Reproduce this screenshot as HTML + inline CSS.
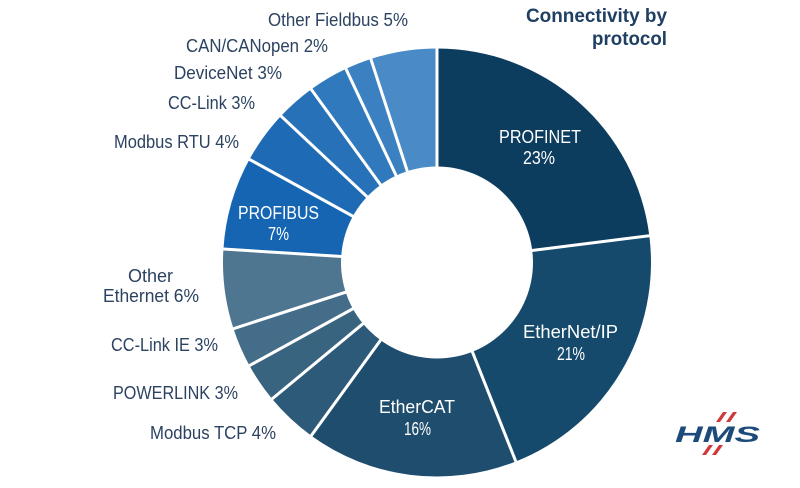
<!DOCTYPE html>
<html>
<head>
<meta charset="utf-8">
<style>
  html,body{margin:0;padding:0;background:#fff;}
  svg{display:block;}
  .lbl{font-family:"Liberation Sans",sans-serif;font-size:18px;fill:#2b4260;}
  .in{font-family:"Liberation Sans",sans-serif;font-size:18px;fill:#ffffff;}
  .ttl{font-family:"Liberation Sans",sans-serif;font-size:19px;font-weight:bold;fill:#1f3f63;}
</style>
</head>
<body>
<svg width="800" height="488" viewBox="0 0 800 488" xmlns="http://www.w3.org/2000/svg">
  <rect width="800" height="488" fill="#fff"/>
  <!-- sectors -->
  <path d="M437 262.5 L437 48.5 A214 214 0 0 1 649.31 235.68 Z" fill="#0c3c5e"/>
  <path d="M437 262.5 L649.31 235.68 A214 214 0 0 1 515.78 461.47 Z" fill="#154a6d"/>
  <path d="M437 262.5 L515.78 461.47 A214 214 0 0 1 311.21 435.63 Z" fill="#1e4d6e"/>
  <path d="M437 262.5 L311.21 435.63 A214 214 0 0 1 272.11 398.91 Z" fill="#2d5a78"/>
  <path d="M437 262.5 L272.11 398.91 A214 214 0 0 1 249.47 365.59 Z" fill="#386480"/>
  <path d="M437 262.5 L249.47 365.59 A214 214 0 0 1 233.47 328.63 Z" fill="#436d88"/>
  <path d="M437 262.5 L233.47 328.63 A214 214 0 0 1 223.42 249.06 Z" fill="#4f7690"/>
  <path d="M437 262.5 L223.42 249.06 A214 214 0 0 1 249.47 159.41 Z" fill="#1565b3"/>
  <path d="M437 262.5 L249.47 159.41 A214 214 0 0 1 281.00 116.01 Z" fill="#1e6ab4"/>
  <path d="M437 262.5 L281.00 116.01 A214 214 0 0 1 311.21 89.37 Z" fill="#2771b8"/>
  <path d="M437 262.5 L311.21 89.37 A214 214 0 0 1 345.88 68.87 Z" fill="#3079bd"/>
  <path d="M437 262.5 L345.88 68.87 A214 214 0 0 1 370.87 58.97 Z" fill="#3b80c1"/>
  <path d="M437 262.5 L370.87 58.97 A214 214 0 0 1 437 48.5 Z" fill="#4a8bc7"/>
  <!-- separators -->
  <g stroke="#fff" stroke-width="3">
    <line x1="437" y1="262.5" x2="437" y2="44"/>
    <line x1="437" y1="262.5" x2="653.3" y2="235.2"/>
    <line x1="437" y1="262.5" x2="517.3" y2="465.2"/>
    <line x1="437" y1="262.5" x2="308.9" y2="438.9"/>
    <line x1="437" y1="262.5" x2="269.0" y2="401.5"/>
    <line x1="437" y1="262.5" x2="246.0" y2="367.5"/>
    <line x1="437" y1="262.5" x2="229.7" y2="329.9"/>
    <line x1="437" y1="262.5" x2="219.4" y2="248.8"/>
    <line x1="437" y1="262.5" x2="246.0" y2="157.5"/>
    <line x1="437" y1="262.5" x2="278.1" y2="113.3"/>
    <line x1="437" y1="262.5" x2="308.9" y2="86.1"/>
    <line x1="437" y1="262.5" x2="344.2" y2="65.2"/>
    <line x1="437" y1="262.5" x2="369.6" y2="55.2"/>
  </g>
  <circle cx="437" cy="262.5" r="96" fill="#fff"/>

  <!-- inside labels -->
  <text class="in" x="499" y="143" textLength="82" lengthAdjust="spacingAndGlyphs">PROFINET</text>
  <text class="in" x="523" y="164" textLength="32" lengthAdjust="spacingAndGlyphs">23%</text>
  <text class="in" x="523" y="338" textLength="95" lengthAdjust="spacingAndGlyphs">EtherNet/IP</text>
  <text class="in" x="557" y="360" textLength="28" lengthAdjust="spacingAndGlyphs">21%</text>
  <text class="in" x="379" y="413" textLength="76" lengthAdjust="spacingAndGlyphs">EtherCAT</text>
  <text class="in" x="404" y="435" textLength="27" lengthAdjust="spacingAndGlyphs">16%</text>
  <text class="in" x="238" y="219" textLength="81" lengthAdjust="spacingAndGlyphs">PROFIBUS</text>
  <text class="in" x="268" y="240" textLength="21" lengthAdjust="spacingAndGlyphs">7%</text>

  <!-- outside labels -->
  <text class="lbl" x="268" y="26" textLength="140" lengthAdjust="spacingAndGlyphs">Other Fieldbus 5%</text>
  <text class="lbl" x="186" y="52" textLength="142" lengthAdjust="spacingAndGlyphs">CAN/CANopen 2%</text>
  <text class="lbl" x="174" y="79" textLength="108" lengthAdjust="spacingAndGlyphs">DeviceNet 3%</text>
  <text class="lbl" x="168" y="109" textLength="87" lengthAdjust="spacingAndGlyphs">CC-Link 3%</text>
  <text class="lbl" x="114" y="148" textLength="125" lengthAdjust="spacingAndGlyphs">Modbus RTU 4%</text>
  <text class="lbl" x="128" y="282" textLength="45" lengthAdjust="spacingAndGlyphs">Other</text>
  <text class="lbl" x="103" y="302" textLength="96" lengthAdjust="spacingAndGlyphs">Ethernet 6%</text>
  <text class="lbl" x="111" y="351" textLength="107" lengthAdjust="spacingAndGlyphs">CC-Link IE 3%</text>
  <text class="lbl" x="113" y="399" textLength="125" lengthAdjust="spacingAndGlyphs">POWERLINK 3%</text>
  <text class="lbl" x="150" y="439" textLength="126" lengthAdjust="spacingAndGlyphs">Modbus TCP 4%</text>

  <!-- title -->
  <text class="ttl" x="526" y="22" textLength="141" lengthAdjust="spacingAndGlyphs">Connectivity by</text>
  <text class="ttl" x="592" y="45" textLength="75" lengthAdjust="spacingAndGlyphs">protocol</text>

  <!-- HMS logo -->
  <g fill="#d0393b">
    <polygon points="723,412 727,412 720,422 716,422"/>
    <polygon points="733,412 737,412 730,422 726,422"/>
    <polygon points="709,445 713,445 706,455 702,455"/>
    <polygon points="719,445 723,445 716,455 712,455"/>
  </g>
  <text x="675" y="442" font-family="Liberation Sans, sans-serif" font-size="22" font-weight="bold" font-style="italic" fill="#1c4a7a" textLength="85" lengthAdjust="spacingAndGlyphs">HMS</text>
</svg>
</body>
</html>
